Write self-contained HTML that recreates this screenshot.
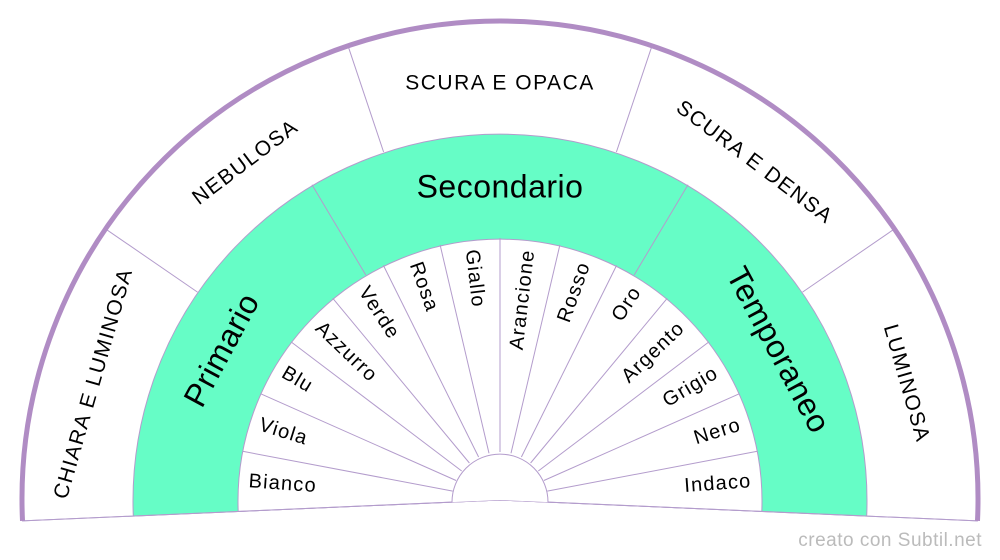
<!DOCTYPE html>
<html><head><meta charset="utf-8"><style>
html,body{margin:0;padding:0;background:#fff;}
svg{display:block;font-family:"Liberation Sans",Arial,sans-serif;}
</style></head><body>
<svg width="1000" height="560" viewBox="0 0 1000 560" xmlns="http://www.w3.org/2000/svg">
<g stroke="#b39ccc" stroke-width="1">
<path d="M22.5,520.9 A478,478 0 1 1 977.5,520.9 L500,500 Z" fill="#fff"/>
<path d="M133.3,516.0 A367,367 0 1 1 866.7,516.0 L500,500 Z" fill="#66fdc6"/>
<path d="M238.2,511.4 A262,262 0 1 1 761.8,511.4 L500,500 Z" fill="#fff"/>
<line x1="22.5" y1="520.9" x2="500" y2="500"/>
<line x1="977.5" y1="520.9" x2="500" y2="500"/>
<line x1="197.5" y1="292.1" x2="106.1" y2="229.3"/>
<line x1="383.6" y1="152.0" x2="348.3" y2="46.7"/>
<line x1="616.4" y1="152.0" x2="651.7" y2="46.7"/>
<line x1="802.5" y1="292.1" x2="893.9" y2="229.3"/>
<line x1="365.8" y1="275.0" x2="312.0" y2="184.8"/>
<line x1="634.2" y1="275.0" x2="688.0" y2="184.8"/>
<line x1="452.8" y1="491.1" x2="242.6" y2="451.3"/>
<line x1="456.1" y1="480.5" x2="260.5" y2="393.7"/>
<line x1="461.7" y1="471.0" x2="291.1" y2="341.9"/>
<line x1="469.4" y1="463.0" x2="332.8" y2="298.3"/>
<line x1="478.6" y1="457.0" x2="383.4" y2="265.4"/>
<line x1="489.0" y1="453.3" x2="440.1" y2="244.9"/>
<line x1="500" y1="452" x2="500" y2="238"/>
<line x1="511.0" y1="453.3" x2="559.9" y2="244.9"/>
<line x1="521.4" y1="457.0" x2="616.6" y2="265.4"/>
<line x1="530.6" y1="463.0" x2="667.2" y2="298.3"/>
<line x1="538.3" y1="471.0" x2="708.9" y2="341.9"/>
<line x1="543.9" y1="480.5" x2="739.5" y2="393.7"/>
<line x1="547.2" y1="491.1" x2="757.4" y2="451.3"/>
</g>
<path d="M452.0,502.1 A48,48 0 1 1 548.0,502.1 L500,500 Z" fill="#fff" stroke="none"/>
<path d="M452.0,502.1 A48,48 0 1 1 548.0,502.1" fill="none" stroke="#b39ccc" stroke-width="1"/>
<path d="M22.5,520.9 A478,478 0 1 1 977.5,520.9" fill="none" stroke="#b08cc4" stroke-width="5"/>
<g font-size="21" letter-spacing="1.5" fill="#000" text-anchor="middle" dominant-baseline="middle">
<text transform="translate(94.3,383.7) rotate(-74)">CHIARA E LUMINOSA</text>
<text transform="translate(246.0,163.0) rotate(-37)">NEBULOSA</text>
<text transform="translate(500,84)">SCURA E OPACA</text>
<text transform="translate(754.0,163.0) rotate(37)">SCURA E DENSA</text>
<text transform="translate(905.7,383.7) rotate(74)">LUMINOSA</text>
</g>
<g font-size="32" letter-spacing="0.5" fill="#000" text-anchor="middle" dominant-baseline="middle">
<text transform="translate(223.6,351.0) rotate(-61.67)">Primario</text>
<text transform="translate(500,189)">Secondario</text>
<text transform="translate(776.4,351.0) rotate(61.67)">Temporaneo</text>
</g>
<g font-size="20" letter-spacing="1.2" fill="#000" dominant-baseline="middle">
<text transform="translate(248.6,481.9) rotate(4.11)">Bianco</text>
<text transform="translate(259.4,425.0) rotate(17.32)">Viola</text>
<text transform="translate(283.0,372.0) rotate(30.54)">Blu</text>
<text transform="translate(318.0,325.7) rotate(43.75)">Azzurro</text>
<text transform="translate(362.6,288.8) rotate(56.96)">Verde</text>
<text transform="translate(414.6,262.9) rotate(70.18)">Rosa</text>
<text transform="translate(471.0,249.7) rotate(83.39)">Giallo</text>
</g>
<g font-size="20" letter-spacing="1.2" fill="#000" dominant-baseline="middle" text-anchor="end">
<text transform="translate(529.0,249.7) rotate(-83.39)">Arancione</text>
<text transform="translate(585.4,262.9) rotate(-70.18)">Rosso</text>
<text transform="translate(637.4,288.8) rotate(-56.96)">Oro</text>
<text transform="translate(682.0,325.7) rotate(-43.75)">Argento</text>
<text transform="translate(717.0,372.0) rotate(-30.54)">Grigio</text>
<text transform="translate(740.6,425.0) rotate(-17.32)">Nero</text>
<text transform="translate(751.4,481.9) rotate(-4.11)">Indaco</text>
</g>
<text x="982" y="546" font-size="19" letter-spacing="0.5" fill="#bbb" text-anchor="end">creato con Subtil.net</text>
</svg>
</body></html>
